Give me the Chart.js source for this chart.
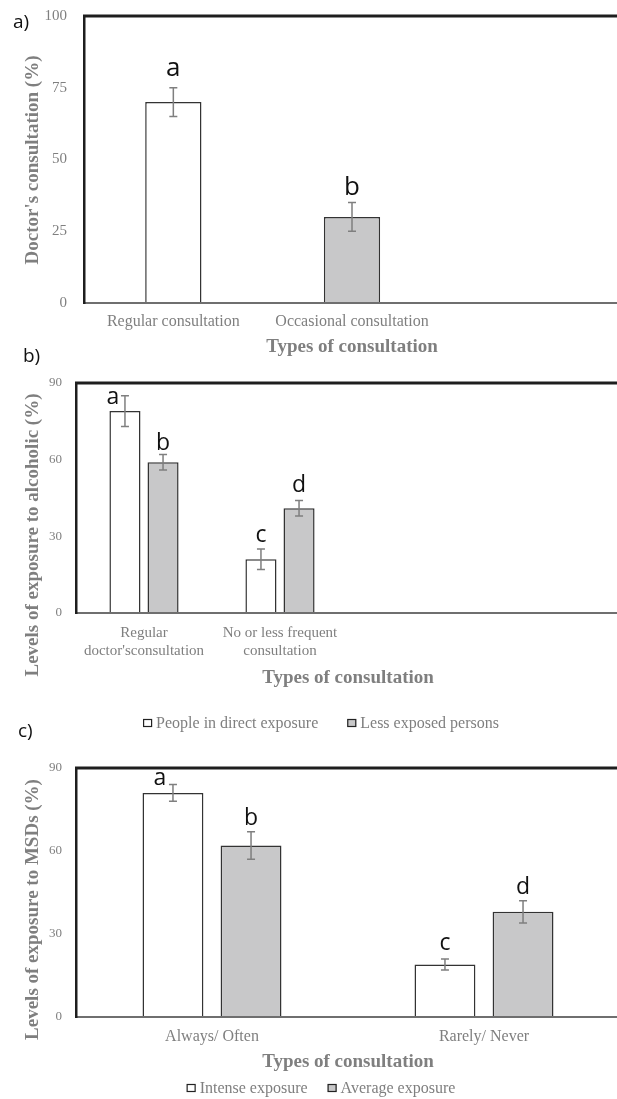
<!DOCTYPE html>
<html>
<head>
<meta charset="utf-8">
<script src="https://cdn.jsdelivr.net/npm/chart.js@4/dist/chart.umd.min.js"></script>
<style>
  html, body { margin: 0; padding: 0; background: #fff; overflow: hidden; width: 617px; height: 1099px; }
  #wrap { position: relative; width: 620px; height: 1099px; }
  canvas { position: absolute; left: 0; }
</style>
</head>
<body>
<div id="wrap">
  <canvas id="chartA" width="620" height="362" style="top:0px"></canvas>
  <canvas id="chartB" width="620" height="400" style="top:336px"></canvas>
  <canvas id="chartC" width="620" height="383" style="top:716px"></canvas>
</div>
<script>
// ---- a) doctor's consultation ----
const consultTypes = ['Regular consultation', 'Occasional consultation', ''];
const consultShare = [70, 30, null];
const consultErr = [5, 5, null];
const consultLetters = ['a', 'b'];
const yTicksA = [0, 25, 50, 75, 100];

// ---- b) exposure to alcoholic ----
const alcoholGroups = [['Regular', "doctor'sconsultation"], ['No or less frequent', 'consultation'], '', ''];
const alcoholSeries = ['People in direct exposure', 'Less exposed persons'];
const alcoholDirect = [79, 21, null, null];
const alcoholLess = [59, 41, null, null];
const alcoholDirectErr = [6, 4];
const alcoholLessErr = [3, 3];
const alcoholDirectLetters = ['a', 'c'];
const alcoholLessLetters = ['b', 'd'];

// ---- c) exposure to MSDs ----
const msdGroups = ['Always/ Often', 'Rarely/ Never'];
const msdSeries = ['Intense exposure', 'Average exposure'];
const msdIntense = [81, 19];
const msdAverage = [62, 38];
const msdIntenseErr = [3, 2];
const msdAverageErr = [5, 4];
const msdIntenseLetters = ['a', 'c'];
const msdAverageLetters = ['b', 'd'];

const yTicksBC = [0, 30, 60, 90];
const xTitle = 'Types of consultation';

const GREY = '#7f7f7f';
const FILL_GREY = '#c8c8c9';
const EDGE = '#333333';
const SERIF = '"Liberation Serif", "Times New Roman", serif';
const SANS = '"Open Sans", sans-serif';

// Error bars, significance letters, top frame, rotated y title, panel tag, legend
const extras = {
  id: 'extras',
  afterDatasetsDraw(chart, args, o) {
    const ctx = chart.ctx, ys = chart.scales.y;
    ctx.save();
    chart.data.datasets.forEach((ds, di) => {
      const meta = chart.getDatasetMeta(di);
      meta.data.forEach((bar, i) => {
        const v = ds.data[i];
        const e = ds.errors ? ds.errors[i] : null;
        if (v == null || e == null) return;
        const top = ys.getPixelForValue(v + e);
        const bot = ys.getPixelForValue(v - e);
        ctx.strokeStyle = GREY;
        ctx.lineWidth = 1.5;
        ctx.beginPath();
        ctx.moveTo(bar.x, top); ctx.lineTo(bar.x, bot);
        ctx.moveTo(bar.x - 4, top); ctx.lineTo(bar.x + 4, top);
        ctx.moveTo(bar.x - 4, bot); ctx.lineTo(bar.x + 4, bot);
        ctx.stroke();
        const letter = ds.letters && ds.letters[i];
        if (letter) {
          const dx = (o.letterDx && o.letterDx[di] && o.letterDx[di][i]) || 0;
          const gap = (o.letterGap && o.letterGap[di] && o.letterGap[di][i] != null) ? o.letterGap[di][i] : 7;
          ctx.fillStyle = '#111';
          ctx.font = o.letterSize + 'px ' + SANS;
          ctx.textAlign = 'center';
          ctx.textBaseline = 'alphabetic';
          ctx.fillText(letter, bar.x + dx, top - gap);
        }
      });
    });
    ctx.restore();
  },
  afterDraw(chart, args, o) {
    const ctx = chart.ctx, area = chart.chartArea;
    ctx.save();
    // heavy frame line along the top of the plot
    ctx.strokeStyle = '#1e1e1e';
    ctx.lineWidth = 3;
    ctx.beginPath();
    ctx.moveTo(area.left - 1, area.top);
    ctx.lineTo(area.right, area.top);
    ctx.stroke();

    // rotated y-axis title
    ctx.fillStyle = GREY;
    ctx.font = 'bold 19px ' + SERIF;
    ctx.textAlign = 'center';
    ctx.textBaseline = 'middle';
    ctx.translate(o.yTitleX, o.yTitleY);
    ctx.rotate(-Math.PI / 2);
    ctx.fillText(o.yTitle, 0, 0);
    ctx.setTransform(1, 0, 0, 1, 0, 0);

    // panel tag
    ctx.fillStyle = '#111';
    ctx.font = '19px ' + SANS;
    ctx.textAlign = 'left';
    ctx.textBaseline = 'alphabetic';
    ctx.fillText(o.tag, o.tagX, o.tagY);

    // legend row
    if (o.legend) {
      const L = o.legend;
      ctx.font = L.size + 'px ' + SERIF;
      const items = chart.data.datasets.map(ds => ({
        text: ds.label, fill: ds.backgroundColor,
        w: 13 + ctx.measureText(ds.label).width
      }));
      const total = items.reduce((s, it) => s + it.w, 0) + L.gap * (items.length - 1);
      let x = L.centerX - total / 2;
      items.forEach(it => {
        ctx.fillStyle = it.fill;
        ctx.fillRect(x, L.y - 4, 9, 8);
        ctx.strokeStyle = '#222';
        ctx.lineWidth = 1.2;
        ctx.strokeRect(x + 0.5, L.y - 3.5, 8, 7);
        ctx.fillStyle = GREY;
        ctx.textAlign = 'left';
        ctx.textBaseline = 'middle';
        ctx.fillText(it.text, x + 13, L.y + 1);
        x += it.w + L.gap;
      });
    }
    ctx.restore();
  }
};

function makeChart(id, cfg) {
  return new Chart(document.getElementById(id), {
    type: 'bar',
    data: { labels: cfg.labels, datasets: cfg.datasets },
    options: {
      responsive: false,
      animation: false,
      devicePixelRatio: 1,
      layout: { padding: { top: cfg.padTop, left: 0, right: 0, bottom: 0 } },
      plugins: {
        legend: { display: false },
        tooltip: { enabled: false },
        extras: cfg.extras
      },
      scales: {
        x: {
          grid: { display: false, drawTicks: false },
          border: { display: true, color: '#6f6f6f', width: 2, z: 1 },
          ticks: {
            color: GREY, font: { family: SERIF, size: cfg.xFont },
            padding: cfg.xTickPad, maxRotation: 0, autoSkip: false
          },
          title: {
            display: true, text: xTitle, color: GREY,
            font: { family: SERIF, size: 19, weight: 'bold' },
            padding: { top: 0, bottom: cfg.xTitlePad }
          },
          afterFit: s => { s.height = cfg.xHeight; }
        },
        y: {
          min: 0, max: cfg.yMax,
          afterBuildTicks: s => { s.ticks = cfg.yTicks.map(v => ({ value: v })); },
          // hidden tick marks reserve the gap between labels and the axis line
          grid: { display: false, drawTicks: true, tickLength: cfg.yTickGap },
          border: { display: true, color: '#1e1e1e', width: 2.5, z: 1 },
          ticks: { color: GREY, font: { family: SERIF, size: cfg.yFont }, padding: 0 },
          afterFit: s => { s.width = cfg.yWidth; }
        }
      }
    },
    plugins: [extras]
  });
}

// a)
makeChart('chartA', {
  labels: consultTypes,
  datasets: [{
    label: "Doctor's consultation",
    data: consultShare,
    errors: consultErr,
    letters: consultLetters,
    backgroundColor: ['#ffffff', FILL_GREY, FILL_GREY],
    borderColor: EDGE, borderWidth: 1.5,
    categoryPercentage: 1, barPercentage: 0.315
  }],
  padTop: 16, xHeight: 59, xTitlePad: 3.6, xFont: 16, xTickPad: 9,
  yMax: 100, yTicks: yTicksA, yFont: 15, yTickGap: 17, yWidth: 84,
  extras: {
    yTitle: "Doctor's consultation (%)", yTitleX: 33.5, yTitleY: 160,
    tag: 'a)', tagX: 13, tagY: 28,
    letterSize: 26, letterGap: [[12, 8]]
  }
});

// b)
makeChart('chartB', {
  labels: alcoholGroups,
  datasets: [{
    label: alcoholSeries[0], data: alcoholDirect, errors: alcoholDirectErr, letters: alcoholDirectLetters,
    backgroundColor: '#ffffff', borderColor: EDGE, borderWidth: 1.5,
    categoryPercentage: 0.56, barPercentage: 0.816
  }, {
    label: alcoholSeries[1], data: alcoholLess, errors: alcoholLessErr, letters: alcoholLessLetters,
    backgroundColor: FILL_GREY, borderColor: EDGE, borderWidth: 1.5,
    categoryPercentage: 0.56, barPercentage: 0.816
  }],
  padTop: 47, xHeight: 123, xTitlePad: 46.6, xFont: 15, xTickPad: 11,
  yMax: 90, yTicks: yTicksBC, yFont: 13, yTickGap: 14, yWidth: 76,
  extras: {
    yTitle: 'Levels of exposure to alcoholic (%)', yTitleX: 33.5, yTitleY: 199,
    tag: 'b)', tagX: 23, tagY: 26,
    letterSize: 23, letterDx: [[-12, 0], [0, 0]], letterGap: [[-8, 7], [5, 9]],
    legend: { centerX: 321, y: 387, gap: 29, size: 16 }
  }
});

// c)
makeChart('chartC', {
  labels: msdGroups,
  datasets: [{
    label: msdSeries[0], data: msdIntense, errors: msdIntenseErr, letters: msdIntenseLetters,
    backgroundColor: '#ffffff', borderColor: EDGE, borderWidth: 1.5,
    categoryPercentage: 0.574, barPercentage: 0.78
  }, {
    label: msdSeries[1], data: msdAverage, errors: msdAverageErr, letters: msdAverageLetters,
    backgroundColor: FILL_GREY, borderColor: EDGE, borderWidth: 1.5,
    categoryPercentage: 0.574, barPercentage: 0.78
  }],
  padTop: 52, xHeight: 82, xTitlePad: 25.6, xFont: 16, xTickPad: 10,
  yMax: 90, yTicks: yTicksBC, yFont: 13, yTickGap: 14, yWidth: 76,
  extras: {
    yTitle: 'Levels of exposure to MSDs (%)', yTitleX: 33.5, yTitleY: 193.5,
    tag: 'c)', tagX: 18, tagY: 21,
    letterSize: 23, letterDx: [[-13, 0], [0, 0]], letterGap: [[0, 9]],
    legend: { centerX: 321, y: 372, gap: 20, size: 16 }
  }
});
</script>
</body>
</html>
